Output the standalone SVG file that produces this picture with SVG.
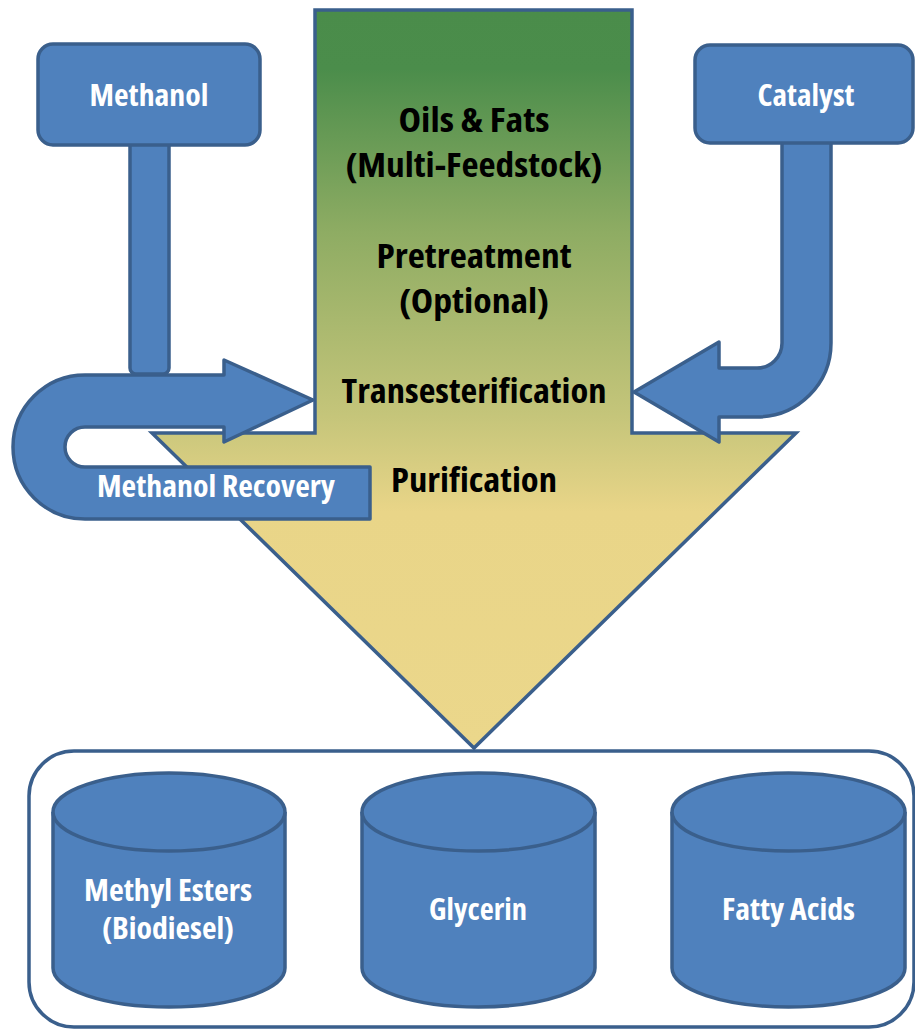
<svg xmlns="http://www.w3.org/2000/svg" width="915" height="1029" viewBox="0 0 915 1029">
<defs>
<linearGradient id="g" gradientUnits="userSpaceOnUse" x1="0" y1="10" x2="0" y2="748">
<stop offset="0" stop-color="#4a8c4a"/>
<stop offset="0.08" stop-color="#4b8d4b"/>
<stop offset="0.3" stop-color="#8eac63"/>
<stop offset="0.55" stop-color="#c5c57a"/>
<stop offset="0.68" stop-color="#e9d588"/>
<stop offset="1" stop-color="#ebd78b"/>
</linearGradient>
<style>
.b{fill:#4f81bd;stroke:#3a5f8c;stroke-width:3.5;stroke-linejoin:round}
.w{font-family:"Open Sans","Liberation Sans",sans-serif;font-weight:bold;font-stretch:condensed;fill:#fff;font-size:31px;text-anchor:middle}
.k{font-family:"Open Sans","Liberation Sans",sans-serif;font-weight:bold;font-stretch:condensed;fill:#000;font-size:33px;text-anchor:middle}
</style>
</defs>
<rect width="915" height="1029" fill="#fff"/>
<g id="process">
<path d="M315,10 L632,10 L632,433 L796,433 L474,748 L152,433 L315,433 Z" fill="url(#g)" stroke="#3a5f8c" stroke-width="3.5" stroke-linejoin="miter"/>
<text class="k" x="474" y="132" textLength="151" lengthAdjust="spacingAndGlyphs">Oils &amp; Fats</text>
<text class="k" x="474" y="177" textLength="257" lengthAdjust="spacingAndGlyphs">(Multi-Feedstock)</text>
<text class="k" x="474" y="268" textLength="195" lengthAdjust="spacingAndGlyphs">Pretreatment</text>
<text class="k" x="474" y="313" textLength="150" lengthAdjust="spacingAndGlyphs">(Optional)</text>
<text class="k" x="474" y="403" textLength="265" lengthAdjust="spacingAndGlyphs">Transesterification</text>
<text class="k" x="474" y="492" textLength="166" lengthAdjust="spacingAndGlyphs">Purification</text>
</g>
<g id="connectors">
<path class="b" d="M85,375 L224,375 L224,360 L313,400 L224,442 L224,427 L85,427 A20,20 0 0 0 85,467 L370,467 L370,519 L85,519 A72,72 0 0 1 85,375 Z"/>
<rect class="b" x="130" y="140" width="39" height="234" rx="6"/>
<path class="b" d="M782,140 L782,343 A25,25 0 0 1 757,368 L719,368 L719,342 L634,392 L719,442 L719,417 L757,417 A74,74 0 0 0 831,343 L831,140 Z"/>
</g>
<g id="methanol-recovery">
<text class="w" x="216" y="497" textLength="238" lengthAdjust="spacingAndGlyphs">Methanol Recovery</text>
</g>
<g id="methanol">
<rect class="b" x="38" y="44" width="222" height="101" rx="15"/>
<text class="w" x="149" y="106" textLength="119" lengthAdjust="spacingAndGlyphs">Methanol</text>
</g>
<g id="catalyst">
<rect class="b" x="695" y="45" width="218" height="98" rx="15"/>
<text class="w" x="806" y="106" textLength="97" lengthAdjust="spacingAndGlyphs">Catalyst</text>
</g>
<g id="products">
<rect x="29" y="751" width="885" height="276" rx="45" fill="#fff" stroke="#3a5f8c" stroke-width="3.5"/>
</g>
<g id="methyl-esters">
<path class="b" d="M53,812 L53,968 A116,39 0 0 0 285,968 L285,812"/>
<ellipse class="b" cx="169" cy="812" rx="116" ry="39"/>
<text class="w" x="168" y="901" textLength="168" lengthAdjust="spacingAndGlyphs">Methyl Esters</text>
<text class="w" x="168" y="939" textLength="132" lengthAdjust="spacingAndGlyphs">(Biodiesel)</text>
</g>
<g id="glycerin">
<path class="b" d="M362,812 L362,968 A116.5,39 0 0 0 595,968 L595,812"/>
<ellipse class="b" cx="478.5" cy="812" rx="116.5" ry="39"/>
<text class="w" x="478" y="920" textLength="98" lengthAdjust="spacingAndGlyphs">Glycerin</text>
</g>
<g id="fatty-acids">
<path class="b" d="M672,812 L672,968 A116.5,39 0 0 0 905,968 L905,812"/>
<ellipse class="b" cx="788.5" cy="812" rx="116.5" ry="39"/>
<text class="w" x="788.5" y="920" textLength="133" lengthAdjust="spacingAndGlyphs">Fatty Acids</text>
</g>
</svg>
